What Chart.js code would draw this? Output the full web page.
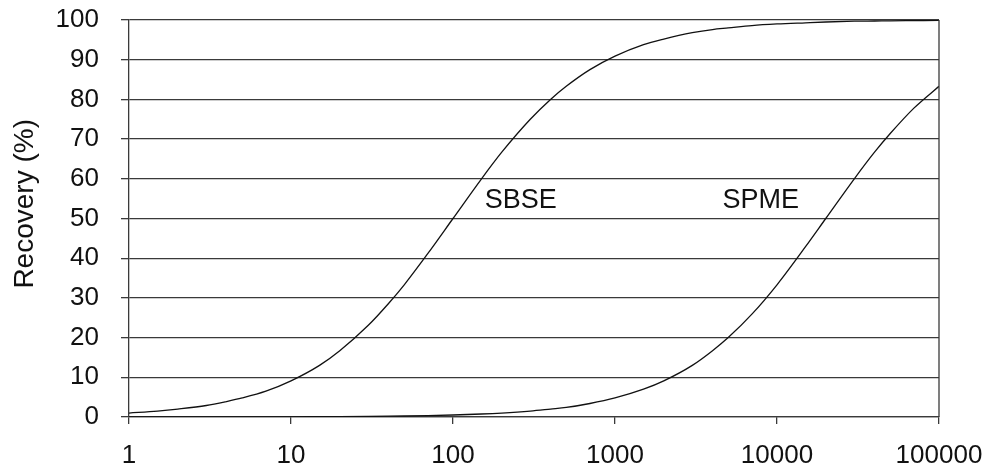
<!DOCTYPE html>
<html>
<head>
<meta charset="utf-8">
<script src="https://cdn.jsdelivr.net/npm/chart.js@4.4.1/dist/chart.umd.min.js"></script>
<style>
  html, body { margin: 0; padding: 0; background: #fff; }
  #wrap { width: 985px; height: 465px; }
</style>
</head>
<body>
<div id="wrap"><canvas id="recoveryChart"></canvas></div>
<script>
// Ko/w (log scale)
const kowValues = [1, 1.5, 2, 3, 4, 5, 7, 10, 15, 20, 30, 40, 50, 70, 100, 150, 200, 300, 400, 500, 700,
    1000, 1500, 2000, 3000, 4000, 5000, 7000, 10000, 15000, 20000, 30000, 40000, 50000, 70000, 100000];

// Recovery (%)
const sbseRecovery = [1.0, 1.5, 2.0, 2.9, 3.9, 4.8, 6.5, 9.1, 13.0, 16.7, 23.1, 28.6, 33.3, 41.2, 50.0, 60.0, 66.7, 75.0, 80.0, 83.3, 87.5,
    90.9, 93.8, 95.2, 96.8, 97.6, 98.0, 98.6, 99.0, 99.3, 99.5, 99.7, 99.75, 99.8, 99.85, 99.9];
const spmeRecovery = [0.0, 0.0, 0.01, 0.02, 0.02, 0.03, 0.04, 0.05, 0.08, 0.1, 0.15, 0.2, 0.25, 0.35, 0.5, 0.75, 1.0, 1.5, 2.0, 2.4, 3.4,
    4.8, 7.0, 9.1, 13.0, 16.7, 20.0, 25.9, 33.3, 42.9, 50.0, 60.0, 66.7, 71.4, 77.8, 83.3];

const xTickValues = [1, 10, 100, 1000, 10000, 100000];
const yTickValues = [0, 10, 20, 30, 40, 50, 60, 70, 80, 90, 100];

// curve labels: [text, Ko/w, recovery]
const curveLabels = [
    ['SBSE', 262, 54.5],
    ['SPME', 7950, 54.5]
];

const yTitle = 'Recovery (%)';

const fontFamily = '"Liberation Sans", Arial, sans-serif';
const gridColor = '#3a3a3a';

function toPoints(ys) {
    return kowValues.map((x, i) => ({ x: x, y: ys[i] }));
}

// label kurva, judul sumbu y, garis tepi kanan
const extrasPlugin = {
    id: 'extras',
    afterDraw(chart) {
        const ctx = chart.ctx;
        const area = chart.chartArea;
        const xs = chart.scales.x;
        const ys = chart.scales.y;
        ctx.save();
        ctx.strokeStyle = gridColor;
        ctx.lineWidth = 1.3;
        ctx.beginPath();
        ctx.moveTo(area.right, area.top);
        ctx.lineTo(area.right, area.bottom);
        ctx.stroke();

        ctx.fillStyle = '#111';
        ctx.font = '27px ' + fontFamily;
        ctx.textAlign = 'center';
        ctx.textBaseline = 'middle';
        curveLabels.forEach(l => {
            ctx.fillText(l[0], xs.getPixelForValue(l[1]), ys.getPixelForValue(l[2]));
        });

        // judul sumbu y (sedikit di atas tengah, seperti aslinya)
        ctx.translate(25, area.top + (area.bottom - area.top) * 0.463);
        ctx.rotate(-Math.PI / 2);
        ctx.font = '28px ' + fontFamily;
        ctx.fillText(yTitle, 0, 0);
        ctx.restore();
    }
};

const ctx = document.getElementById('recoveryChart').getContext('2d');

new Chart(ctx, {
    type: 'line',
    data: {
        datasets: [{
            label: 'SBSE',
            data: toPoints(sbseRecovery),
            borderColor: '#111',
            borderWidth: 1.3,
            pointRadius: 0,
            cubicInterpolationMode: 'monotone',
            fill: false
        }, {
            label: 'SPME',
            data: toPoints(spmeRecovery),
            borderColor: '#111',
            borderWidth: 1.3,
            pointRadius: 0,
            cubicInterpolationMode: 'monotone',
            fill: false
        }]
    },
    options: {
        responsive: true,
        maintainAspectRatio: false,
        animation: false,
        layout: {
            padding: { left: 0, top: 20, right: 46, bottom: 0 }
        },
        plugins: {
            legend: { display: false },
            tooltip: { enabled: false }
        },
        scales: {
            x: {
                type: 'logarithmic',
                min: 1,
                max: 100000,
                afterBuildTicks: (scale) => {
                    scale.ticks = xTickValues.map(v => ({ value: v, major: true }));
                },
                afterFit: (scale) => {
                    scale.height = 48;
                    scale.paddingLeft = 0;
                    scale.paddingRight = 0;
                },
                ticks: {
                    color: '#111',
                    padding: 16,
                    maxRotation: 0,
                    autoSkip: false,
                    font: { family: fontFamily, size: 26 },
                    callback: (value) => String(value)
                },
                grid: {
                    drawOnChartArea: false,
                    drawTicks: true,
                    tickLength: 7,
                    color: gridColor,
                    lineWidth: 1.3
                },
                border: { display: true, color: gridColor, width: 1.3 }
            },
            y: {
                min: 0,
                max: 100,
                afterBuildTicks: (scale) => {
                    scale.ticks = yTickValues.map(v => ({ value: v }));
                },
                afterFit: (scale) => {
                    scale.width = 129;
                    scale.paddingTop = 0;
                    scale.paddingBottom = 0;
                },
                ticks: {
                    color: '#111',
                    padding: 22,
                    font: { family: fontFamily, size: 26 }
                },
                grid: {
                    color: gridColor,
                    lineWidth: 1.3,
                    tickLength: 8
                },
                border: { display: true, color: gridColor, width: 1.3 }
            }
        }
    },
    plugins: [extrasPlugin]
});
</script>
</body>
</html>
